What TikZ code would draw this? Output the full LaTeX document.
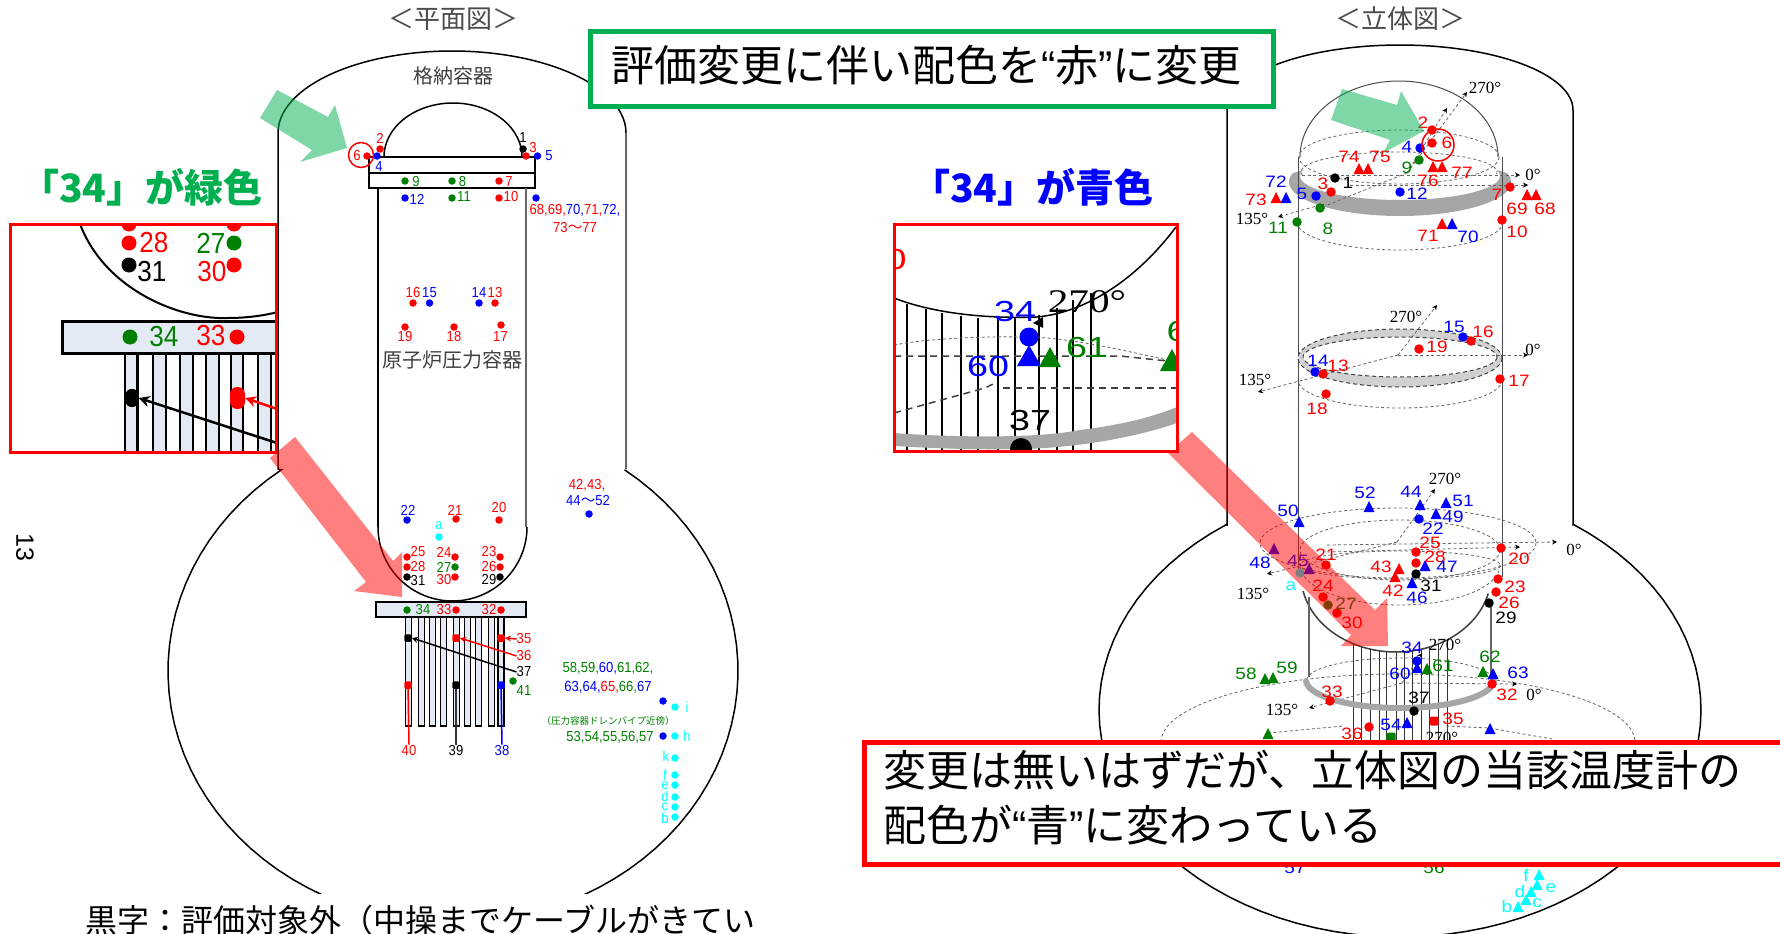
\documentclass[tikz,border=0pt]{standalone}
\usepackage{fontspec}
\usetikzlibrary{arrows.meta}
\setmainfont{Liberation Sans}
\newfontfamily\cjk{Noto Sans CJK JP}
\newfontfamily\lat{Liberation Sans}
\newfontfamily\ser{Liberation Serif}
\newfontfamily\lnar[FakeStretch=0.9]{Liberation Sans}
\newfontfamily\rwid[FakeStretch=1.15]{Liberation Sans}
\newfontfamily\iwid[FakeStretch=1.3]{Liberation Sans}
\newfontfamily\swid[FakeStretch=1.25]{Liberation Serif}
\definecolor{gr}{HTML}{008000}
\definecolor{boxgreen}{HTML}{00B050}
\definecolor{tubefill}{HTML}{E4EAF4}
\definecolor{cy}{HTML}{00FFFF}
\newcommand\earc[6]{plot[domain=#5:#6,samples=80] ({#1+#3*cos(\x)},{#2+#4*sin(\x)})}
\newcommand\learc[6]{-- plot[domain=#5:#6,samples=80] ({#1+#3*cos(\x)},{#2+#4*sin(\x)})}
\tikzset{
  ll/.style={inner sep=0pt,font=\lnar\fontsize{14.5}{15}\selectfont},
  rl/.style={inner sep=0pt,font=\rwid\fontsize{16.5}{17}\selectfont},
  ang/.style={inner sep=0pt,font=\ser\fontsize{17}{18}\selectfont,text=black},
  ddot/.style={circle,inner sep=0pt,minimum size=7.5pt},
  rdot/.style={circle,inner sep=0pt,minimum size=9.5pt},
  sq/.style={rectangle,rounded corners=1.5pt,inner sep=0pt,minimum size=7.5pt},
  wall/.style={draw=black,line width=1.5pt},
  wallg/.style={draw=black!60,line width=1.5pt},
  thinwall/.style={draw=black!70,line width=1pt},
  dsh/.style={draw=black!60,line width=.8pt,dash pattern=on 3pt off 2.5pt},
  dshk/.style={draw=black!75,line width=1pt,dash pattern=on 4pt off 3pt},
  axarrow/.style={dsh,-{Stealth[length=5pt,width=5pt,black]}},
  title/.style={inner sep=0pt,font=\cjk\fontsize{26}{28}\selectfont,text=black!70},
  jp/.style={inner sep=0pt,font=\cjk\fontsize{20}{22}\selectfont,text=black!75},
  big/.style={inner sep=0pt,anchor=west,font=\cjk\fontsize{43}{47}\selectfont,text=black},
  lbl34/.style={inner sep=0pt,anchor=west,font=\cjk\bfseries\fontsize{39}{42}\selectfont},
  pinkarrow/.style={fill=red,opacity=.5},
  greenarrow/.style={fill=boxgreen,opacity=.5},
  insetbox/.style={draw=red,line width=3pt},
  ilab/.style={inner sep=0pt,font=\lnar\fontsize{29}{30}\selectfont},
  rlab/.style={inner sep=0pt,font=\iwid\fontsize{29}{30}\selectfont},
}
\begin{document}
\begin{tikzpicture}[x=1pt,y=-1pt]
\useasboundingbox (0,0) rectangle (1780,934);
\clip (0,0) rectangle (1780,934);
\fill[white] (0,0) rectangle (1780,934);

% ---------- LEFT: plan view ----------
\node[title] (titleL) at (453,19) {＜平面図＞};
\node[jp] (cv) at (453,76) {格納容器};
\draw[wall] \earc{452}{133}{174}{82}{180}{360};
\draw[wall] (278,133) -- (278,469) \learc{453}{671}{285}{252}{233}{-53};
\draw[wallg] (626,133) -- (626,469);
\fill[white] (60,894) rectangle (800,934);
\node[inner sep=0pt,anchor=west,font=\cjk\fontsize{32}{34}\selectfont] (cap) at (85,920) {黒字：評価対象外（中操までケーブルがきてい};
\node[rotate=-90,inner sep=0pt,font=\lat\fontsize{25}{26}\selectfont] (pg) at (25,547) {13};

% RPV
\draw[wall] \earc{453}{157}{69}{54}{180}{360};
\draw[wall,fill=white] (369,157) rectangle (535,173);
\draw[wall,fill=white] (369,173) rectangle (535,188);
\draw[wall] (378,188) -- (378,527);
\draw[wallg] (526,188) -- (526,527);
\draw[wall] \earc{452.5}{527}{74.5}{74}{180}{0};
\node[jp,fill=white,inner sep=1pt] (rpv) at (452,360) {原子炉圧力容器};
% CRD tubes
\foreach \ta/\tb in {405.3/411.3,418.3/424.3,429.3/435.3,440.3/446.7,453.3/459.3,464.7/470.7,475.7/481.7,488.3/494.3,498/504}
  \draw[wall,fill=tubefill] (\ta,617) rectangle (\tb,726);
\draw[wall,fill=tubefill] (376,602) rectangle (526,617);

% left dots
\foreach \n/\c/\px/\py in {d2/red/380/149,d6/red/367/156,d4/blue/377/156,d1/black/523/149,d3/red/526/156,d5/blue/537.5/156,
 d9/gr/405/181,d8/gr/452/181,d7/red/499/181,d12/blue/405/198,d11/gr/452/198,d10/red/499/198,d68/blue/536/198,
 d16/red/413/303,d15/blue/429.5/303,d14/blue/479/303,d13/red/495/303,d19/red/405/327,d18/red/454/327,d17/red/501/325,
 d22/blue/407/520,d21/red/456/519,d20/red/499/520,da/cy/439/537,d25/red/407/557,d28/red/407/567,d31/black/407/577,
 d24/red/455/557,d27/gr/455/567,d30/red/455/577,d23/red/500/557,d26/red/500/567,d29/black/500/577,
 d34/gr/407/610,d33/red/456/610,d32/red/501/610,d41/gr/513/681,d42/blue/589/514,
 dp/blue/663/701,dq/blue/663/736,di/cy/675/707,dh/cy/675/736,dk/cy/675/758,df/cy/675/775,de/cy/675/785,dd/cy/675/797,dc/cy/675/807,db/cy/675/817}
  \node[ddot,fill=\c] (\n) at (\px,\py) {};
\foreach \n/\c/\px/\py in {s35/red/501/638,s36/red/456/638,s37/black/408/638,s40/red/408/685,s39/black/456/685,s38/blue/501/685}
  \node[sq,fill=\c] (\n) at (\px,\py) {};
% left labels
\foreach \n/\c/\px/\py/\t in {l2/red/380/138/2,l6/red/357/156/6,l4/blue/379/167/4,l1/black/523/138/1,l3/red/533/148/3,l5/blue/549/156/5,
 l9/gr/416/182/9,l8/gr/462.5/182/8,l7/red/509/182/7,l12/blue/417/199/12,l11/gr/464/197/11,l10/red/511/197/10,
 l16/red/413/293/16,l15/blue/429.5/293/15,l14/blue/479/293/14,l13/red/495/293/13,l19/red/405/337/19,l18/red/454/337/18,l17/red/500.5/337/17,
 l22/blue/408/510/22,l21/red/455/510/21,l20/red/499/508/20,la/cy/439/526/a,l25/red/418/552/25,l28/red/418/567/28,l31/black/418/581/31,
 l24/red/444/552/24,l27/gr/444/567/27,l30/red/444/580/30,l23/red/489/552/23,l26/red/489/567/26,l29/black/489/580/29,
 l34/gr/423/610/34,l33/red/444/610/33,l32/red/489/610/32,l35/red/524/639/35,l36/red/524/656/36,l37/black/524/672/37,l41/gr/524/691/41,
 l40/red/409/750/40,l39/black/456/750/39,l38/blue/502/750/38,
 li/cy/687/707/i,lh/cy/687/736/h,lk/cy/666/756/k,lf/cy/665/775/f,le/cy/665/786/e,ld/cy/665/796/d,lc/cy/665/807/c,lb/cy/665/818/b}
  \node[ll,text=\c] (\n) at (\px,\py) {\t};
\node[ll] (l68) at (575,210) {\textcolor{red}{68,69,}\textcolor{blue}{70,}\textcolor{red}{71,}\textcolor{blue}{72,}};
\node[ll,text=red] (l73) at (575,228) {73{\cjk ～}77};
\node[ll,text=red] (l42) at (587,485) {42,43,};
\node[ll,text=blue] (l44) at (588,501) {44{\cjk ～}52};
\node[ll] (l58) at (608,668) {\textcolor{gr}{58,59,}\textcolor{blue}{60,}\textcolor{gr}{61,62,}};
\node[ll] (l63) at (608,687) {\textcolor{blue}{63,64,}\textcolor{red}{65,}\textcolor{gr}{66,}\textcolor{blue}{67}};
\node[inner sep=0pt,text=gr,font=\cjk\fontsize{9.5}{10}\selectfont] (ldr) at (608,721) {（圧力容器ドレンパイプ近傍）};
\node[ll,text=gr] (l53) at (610,737) {53,54,55,56,57};
\draw[red,line width=1.5pt,-{Stealth[length=6pt,width=6pt]}] (l35.west) -- (s35.east);
\draw[red,line width=1.5pt,-{Stealth[length=6pt,width=6pt]}] (l36.west) -- (s36.east);
\draw[black,line width=1.5pt,-{Stealth[length=6pt,width=6pt]}] (l37.west) -- (s37.east);
\draw[red,line width=1.5pt] (s40) -- (l40.north);
\draw[black!80,line width=1.5pt] (s39) -- (l39.north);
\draw[blue,line width=1.5pt] (s38) -- (l38.north);
\node[circle,draw=red,line width=1.5pt,inner sep=0pt,minimum size=25pt] (ringL) at (361,155) {};

% ---------- RIGHT: 3D view ----------
\node[title] (titleR) at (1400,19) {＜立体図＞};
\draw[wall] \earc{1400}{110}{173}{65}{180}{360};
\draw[wall] (1227,110) -- (1227,525) \learc{1400}{710}{301}{227}{234.7}{-54.7} -- (1573,525) -- (1573,110);
% top zone
\draw[thinwall] \earc{1399}{157}{99}{76}{180}{360};
\fill[black!35] \earc{1400}{182}{111}{34}{-15}{195} \learc{1400}{176}{100}{24}{195}{-15} -- cycle;
\draw[dsh] \earc{1399}{157}{100}{27}{0}{360};
\draw[dsh] \earc{1399}{172}{98}{20}{170}{370};
\draw[dsh] \earc{1400}{222}{103}{28}{0}{180};
\draw[thinwall] (1298,157) -- (1298,577);
\draw[thinwall] (1502,157) -- (1502,577);
\draw[axarrow] (1320,205) -- (1278,217);
\draw[axarrow] (1407,173) -- (1320,208) ;
\draw[axarrow] (1407,173) -- (1467,92);
\draw[axarrow] (1407,173) -- (1447,108);
\draw[axarrow] (1302,175) -- (1520,175);
\draw[axarrow] (1350,185) -- (1528,185);
\node[ang] (a270a) at (1485,88) {270°};
\node[ang] (a0a) at (1533,175) {0°};
\node[ang] (a135a) at (1252,219) {135°};
% mid ring
\fill[black!18,even odd rule] \earc{1400}{358}{102}{29}{0}{360} \earc{1400}{357}{97}{20}{0}{360};
\draw[dshk] \earc{1400}{358}{102}{29}{0}{360};
\draw[dshk] \earc{1400}{357}{97}{20}{0}{360};
\draw[dsh] \earc{1400}{380}{102}{28}{0}{180};
\draw[axarrow] (1398,355) -- (1258,392);
\draw[axarrow] (1398,355) -- (1437,305);
\draw[axarrow] (1398,355) -- (1528,355);
\node[ang] (a270b) at (1406,317) {270°};
\node[ang] (a0b) at (1533,350) {0°};
\node[ang] (a135b) at (1255,380) {135°};
% lower zone
\draw[dsh] \earc{1398}{543}{138}{35}{0}{360};
\draw[dsh] \earc{1400}{550}{100}{30}{0}{360};
\draw[dsh] \earc{1400}{565}{100}{14}{0}{360};
\draw[dsh] \earc{1400}{565}{100}{40}{0}{180};
\draw[axarrow] (1397,542) -- (1267,574);
\draw[axarrow] (1397,542) -- (1435,489);
\draw[axarrow] (1327,545) -- (1557,542);
\draw[axarrow] (1327,552) -- (1520,547);
\node[ang] (a270c) at (1445,479) {270°};
\node[ang] (a0c) at (1574,550) {0°};
\node[ang] (a135c) at (1253,594) {135°};
% head, skirt, tubes, ring
\draw[wall,draw=black!75] \earc{1396}{575}{95}{77}{168}{14};
\draw[wallg] (1309,597) -- (1309,677);
\draw[wallg] (1491,603) -- (1491,687);
\foreach \tx in {1353,1361,1370,1379,1386,1396,1404,1412,1421,1429,1438,1447}
  \draw[black!80,line width=1pt] (\tx,{575+77*sqrt(1-((\tx-1396)/95)^2)}) -- (\tx,745);
\draw[dsh] \earc{1398}{742}{237}{68}{180}{360};
\draw[dsh] \earc{1400}{680}{93}{22}{180}{360};
\draw[axarrow] (1402,683) -- (1309,708);
\draw[axarrow] (1402,683) -- (1422,653);
\draw[axarrow] (1406,683) -- (1517,684);
\draw[dsh] (1268,733) -- (1343,726);
\draw[dsh] (1446,726) -- (1489,728) -- (1552,739);
\draw[black!35,line width=6pt,line cap=round] \earc{1400}{680}{94}{28}{178}{2};
\node[ang] (a270d) at (1445,645) {270°};
\node[ang] (a0d) at (1534,695) {0°};
\node[ang] (a135d) at (1282,710) {135°};
\node[ang] (a270e) at (1442,738) {270°};

% right circles
\foreach \n/\c/\px/\py in {r2/red/1432/130,r6/red/1432/143,r4/blue/1420/148,r9/gr/1419/160,r1/black/1335/178,r3/red/1331/192,r5/blue/1316/196,r12/blue/1400/192,
 r8/gr/1320/208,r11/gr/1297/222,r7/red/1510/187,r10/red/1502/220,r15/blue/1463/337,r16/red/1471/341,r19/red/1419/349,r14/blue/1315/372,r13/red/1323/374,r17/red/1500/379,r18/red/1326/394,
 r22/blue/1419/519,rcy/cy/1300/573,r21/red/1326/565,r24/red/1323/597,r27/gr/1328/605,r30/red/1337/613,r25/red/1416/552,r28/red/1416/563,r31/black/1416/574,
 r20/red/1501/548,r23/red/1498/579,r26/red/1496/592,r29/black/1489/603,r34/blue/1417/661,r32/red/1492/684,r33/red/1330/701,r37/black/1414/711,r36/red/1369/727}
  \node[rdot,fill=\c] (\n) at (\px,\py) {};
\node[sq,fill=red,minimum size=9pt] (r35) at (1434,721) {};
\node[sq,fill=gr,minimum size=9pt] (r54b) at (1391,737) {};
% triangles
\foreach \c/\px/\py in {red/1359/169,red/1368/169,red/1433/167,red/1442/167,red/1276/198,blue/1286/198,red/1527/195,red/1536/195,red/1442/224,blue/1452/224,
 blue/1369/507,blue/1420/505,blue/1446/503,blue/1436/514,blue/1299/522,blue/1274/549,blue/1309/569,blue/1425/566,red/1399/569,red/1395/577,blue/1412/583,
 blue/1417/668,gr/1427/669,gr/1265/679,gr/1273/678,gr/1483/672,blue/1493/674,blue/1407/723,gr/1268/734,blue/1490/729,
 cy/1539/875,cy/1537/885,cy/1531/892,cy/1526/900,cy/1518/907}
  \fill[\c] (\px,\py) ++(0,-6) -- ++(5.5,11) -- ++(-11,0) -- cycle;
% right labels
\foreach \n/\c/\px/\py/\t in {t2/red/1423/123/2,t6/red/1447/143/6,t4/blue/1407/147/4,t9/gr/1407/168/9,t74/red/1349/157/74,t75/red/1380/157/75,t76/red/1428/181/76,t77/red/1462/173/77,
 t1/black/1348/183/1,t3/red/1323/184/3,t5/blue/1302/194/5,t72/blue/1276/182/72,t73/red/1256/200/73,t12/blue/1417/194/12,t8/gr/1328/229/8,t11/gr/1278/228/11,t7/red/1497/195/7,
 t69/red/1517/209/69,t68/red/1545/209/68,t10/red/1517/232/10,t71/red/1428/236/71,t70/blue/1468/237/70,
 t15/blue/1454/327/15,t16/red/1483/332/16,t19/red/1437/347/19,t14/blue/1318/361/14,t13/red/1338/366/13,t17/red/1519/381/17,t18/red/1317/409/18,
 t52/blue/1365/493/52,t44/blue/1411/492/44,t51/blue/1463/501/51,t49/blue/1453/517/49,t22/blue/1433/529/22,t50/blue/1288/511/50,t48/blue/1260/563/48,t45/blue/1298/561/45,tcy/cy/1291/586/a,
 t21/red/1326/555/21,t24/red/1323/586/24,t27/gr/1346/604/27,t30/red/1352/623/30,t25/red/1430/543/25,t28/red/1435/557/28,t47/blue/1447/567/47,t43/red/1381/567/43,t42/red/1393/591/42,
 t31/black/1431/586/31,t46/blue/1417/598/46,t20/red/1519/559/20,t23/red/1515/587/23,t26/red/1509/603/26,t29/black/1506/618/29,
 t34/blue/1412/648/34,t61/gr/1443/666/61,t60/blue/1400/674/60,t58/gr/1246/674/58,t59/gr/1287/668/59,t62/gr/1490/657/62,t63/blue/1518/673/63,t32/red/1507/695/32,t33/red/1332/692/33,t37/black/1419/698/37,
 t54/blue/1391/725/54,t36/red/1352/734/36,t35/red/1453/719/35,
 t57/blue/1295/868/57,t56/gr/1434/868/56,
 tf/cy/1526/876/f,te/cy/1551/888/e,td/cy/1520/892/d,tc/cy/1537/903/c,tb/cy/1507/907/b}
  \node[rl,text=\c] (\n) at (\px,\py) {\t};
\node[circle,draw=red,line width=1.5pt,inner sep=0pt,minimum size=32pt] (ringR) at (1438,145) {};

% ---------- translucent arrows ----------
\fill[greenarrow] (277,90) -- (328,117) -- (335,105) -- (347,148) -- (300,162) -- (312,150) -- (260,118) -- cycle;
\fill[greenarrow] (1342,89) -- (1397,105) -- (1401,91) -- (1424,131) -- (1383,153) -- (1390,140) -- (1331,120) -- cycle;
\fill[pinkarrow] (295,437) -- (393,561) -- (402,552) -- (402,597) -- (354,591) -- (366,582) -- (270,458) -- cycle;
\fill[pinkarrow] (1192,432) -- (1375,610) -- (1387,598) -- (1388,646) -- (1341,646) -- (1351,635) -- (1168,453) -- cycle;

% ---------- left inset ----------
\fill[white] (10,224) rectangle (276,452);
\begin{scope}
\clip (10,224) rectangle (276,452);
\draw[black,line width=2pt] (80,224) .. controls (105,290) and (180,320) .. (228,318) .. controls (245,318) and (262,316) .. (278,312);
\foreach \ta/\tb in {125/137.5,153/166,180/193,206/219,231/243,258/271}
  \draw[black,line width=2.5pt,fill=tubefill] (\ta,353) rectangle (\tb,460);
\draw[black,line width=3pt,fill=tubefill] (62.5,321) rectangle (285,353);
\foreach \n/\c/\px/\py in {i28/red/129/243,i27/gr/234/243,i31/black/129/265,i30/red/234/265,i25/red/129/224,i24/red/234/224,i34/gr/130/337,i33/red/237/337}
  \node[circle,inner sep=0pt,minimum size=15pt,fill=\c] (\n) at (\px,\py) {};
\foreach \n/\c/\px/\py/\t in {j28/red/154/243/28,j27/gr/211/243/27,j31/black/152/272/31,j30/red/212/272/30,j34/gr/164/337/34,j33/red/211/336/33}
  \node[ilab,text=\c] (\n) at (\px,\py) {\t};
\node[sq,rounded corners=6pt,fill=black,minimum width=13pt,minimum height=18pt] (i37) at (132,398) {};
\node[sq,rounded corners=7pt,fill=red,minimum width=15pt,minimum height=22pt] (i36) at (237.5,398) {};
\coordinate (i37t) at (280,444);
\coordinate (i36t) at (280,410);
\draw[black,line width=2.5pt,-{Stealth[length=11pt,width=11pt]}] (i37t) -- (i37.east);
\draw[red,line width=2.5pt,-{Stealth[length=11pt,width=11pt]}] (i36t) -- (i36.east);
\end{scope}
\draw[insetbox] (10,224) rectangle (276,452);
\node[lbl34,text=boxgreen] (lg) at (20,187) {「34」が緑色};

% ---------- right inset ----------
\fill[white] (894,224) rectangle (1177,451);
\begin{scope}
\clip (894,224) rectangle (1177,451);
\foreach \tx/\ty in {907/304,926/309,942/313,961/316,978/318,998/319,1015/318,1039/315,1057/308,1073/300,1091/293}
  \draw[black,line width=1.5pt] (\tx,\ty) -- (\tx,452);
\draw[black,line width=1.5pt] (894,298) .. controls (930,312) and (980,319) .. (1037,317) .. controls (1090,312) and (1140,275) .. (1176,227);
\draw[dsh] (894,345) .. controls (930,338) and (1000,335) .. (1047,338) .. controls (1090,342) and (1130,352) .. (1177,362);
\draw[dshk,line width=1.5pt,dash pattern=on 7pt off 5pt] (894,356) -- (1120,356) -- (1177,362);
\draw[dshk,line width=1.5pt,dash pattern=on 7pt off 5pt] (1003,388) -- (1177,388);
\draw[dshk,line width=1.5pt,dash pattern=on 7pt off 5pt] (894,413) -- (985,388) -- (997,382);
\fill[black!35] (894,433) .. controls (930,436) and (1030,440) .. (1080,430) .. controls (1120,425) and (1150,418) .. (1177,407) -- (1177,423) .. controls (1140,436) and (1080,448) .. (1020,449) .. controls (970,450) and (930,448) .. (894,446) -- cycle;
\fill[black] (1043,317) -- (1033,323) -- (1043,328) -- cycle;
\node[circle,inner sep=0pt,minimum size=19pt,fill=blue] (k34) at (1029,337) {};
\fill[blue] (1029,345) -- (1041,366) -- (1017,366) -- cycle;
\fill[gr] (1050,347) -- (1061,367) -- (1039,367) -- cycle;
\fill[gr] (1172,349) -- (1184,371) -- (1160,371) -- cycle;
\node[circle,inner sep=0pt,minimum size=22pt,fill=black] (k37) at (1021,449) {};
\foreach \n/\c/\px/\py/\t in {m34/blue/1015/312/34,m60/blue/988/367/60,m61/gr/1087/348/61,m37/black/1030/421/37,m6/gr/1177/332/6,m0/red/896/260/0}
  \node[rlab,text=\c] (\n) at (\px,\py) {\t};
\node[inner sep=0pt,font=\swid\fontsize{33}{34}\selectfont] (k270) at (1087,302) {270°};
\end{scope}
\draw[insetbox] (894,224) rectangle (1177,451);
\node[lbl34,text=blue] (lb) at (911,187) {「34」が青色};

% ---------- callouts ----------
\draw[draw=boxgreen,line width=5pt,fill=white] (590,32) rectangle (1273,106);
\node[big] (cg) at (611,65) {評価変更に伴い配色を{\lat “}赤{\lat ”}に変更};
\draw[draw=red,line width=5pt,fill=white] (864,742) rectangle (1790,864);
\node[big] (cr1) at (883,770) {変更は無いはずだが、立体図の当該温度計の};
\node[big] (cr2) at (883,825) {配色が{\lat “}青{\lat ”}に変わっている};
\end{tikzpicture}
\end{document}
